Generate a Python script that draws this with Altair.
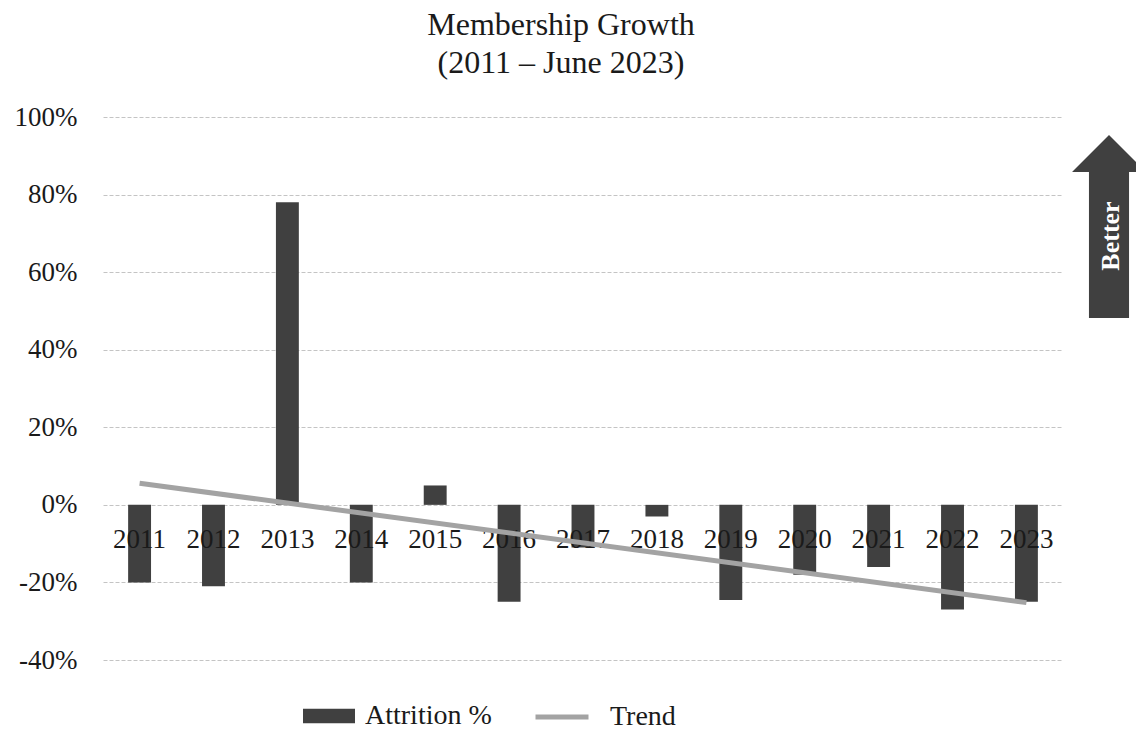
import altair as alt
import pandas as pd

years = [2011, 2012, 2013, 2014, 2015, 2016, 2017, 2018, 2019, 2020, 2021, 2022, 2023]
attrition = [-0.20, -0.21, 0.78, -0.20, 0.05, -0.25, -0.11, -0.03, -0.245, -0.18, -0.16, -0.27, -0.25]
series_names = ["Attrition %", "Trend"]
series_colors = ["#404040", "#a3a3a3"]
y_ticks = [-0.4, -0.2, 0.0, 0.2, 0.4, 0.6, 0.8, 1.0]
title_lines = ["Membership Growth", "(2011 \u2013 June 2023)"]
arrow_label = ["Better"]

FONT = "Liberation Serif"

df = pd.DataFrame({"year": years, "value": attrition})

bar_legend = alt.Legend(
    title=None,
    orient="none",
    legendX=200,
    legendY=573,
    direction="horizontal",
    labelFont=FONT,
    labelFontSize=28,
    labelColor="#1a1a1a",
    symbolType="M-1,-0.28H1V0.28H-1Z",
    symbolSize=2704,
    symbolStrokeWidth=0,
    symbolOpacity=1,
    labelOffset=10,
)
trend_legend = alt.Legend(
    title=None,
    orient="none",
    legendX=430,
    legendY=571,
    direction="horizontal",
    labelFont=FONT,
    labelFontSize=28,
    labelColor="#1a1a1a",
    symbolType="M-1,0H1",
    symbolSize=2809,
    symbolStrokeWidth=5,
    symbolOpacity=1,
    labelOffset=19,
)

x_enc = alt.X(
    "year:O",
    axis=None,
    scale=alt.Scale(paddingInner=0.69, paddingOuter=0.34),
)
y_scale = alt.Scale(domain=[-0.4, 1.0], nice=False)

base = alt.Chart(df)

bars = base.transform_calculate(series=f"'{series_names[0]}'").mark_bar().encode(
    x=x_enc,
    y=alt.Y(
        "value:Q",
        scale=y_scale,
        axis=alt.Axis(
            values=y_ticks,
            labelExpr="round(datum.value*100) + '%'",
            domain=False,
            ticks=False,
            labelFont=FONT,
            labelFontSize=27,
            labelColor="#1a1a1a",
            labelPadding=26,
            gridColor="#c4c4c4",
            gridDash=[4, 2],
            gridWidth=1,
            title=None,
        ),
    ),
    fill=alt.Fill(
        "series:N",
        scale=alt.Scale(domain=[series_names[0]], range=[series_colors[0]]),
        legend=bar_legend,
    ),
)

year_labels = base.mark_text(
    font=FONT, fontSize=27, color="#1a1a1a", baseline="alphabetic", dy=43
).encode(
    x=x_enc,
    y=alt.datum(0),
    text=alt.Text("year:O"),
)

trend = base.transform_regression("year", "value", method="linear").transform_calculate(
    series=f"'{series_names[1]}'"
).mark_line(strokeWidth=5).encode(
    x=x_enc,
    y=alt.Y("value:Q", scale=y_scale),
    stroke=alt.Stroke(
        "series:N",
        scale=alt.Scale(domain=[series_names[1]], range=[series_colors[1]]),
        legend=trend_legend,
    ),
)

arrow_df = pd.DataFrame({"label": arrow_label})
arrow = alt.Chart(arrow_df).mark_point(
    shape="M0,-1L0.404,-0.596L0.219,-0.596L0.219,1L-0.219,1L-0.219,-0.596L-0.404,-0.596Z",
    filled=True,
    fill="#404040",
    opacity=1,
    strokeWidth=0,
    size=183 * 183,
).encode(x=alt.value(1006), y=alt.value(109.5))

better = alt.Chart(arrow_df).mark_text(
    font=FONT, fontSize=26, fontWeight="bold", color="white", angle=270,
    baseline="middle", align="center",
).encode(x=alt.value(1008), y=alt.value(119), text="label:N")

chart = alt.layer(bars, year_labels, trend, arrow, better).resolve_scale(
    fill="independent", stroke="independent"
).properties(
    width=960,
    height=543,
    background="white",
    padding={"left": 103, "top": 117, "right": 73, "bottom": 70},
    autosize=alt.AutoSizeParams(type="none"),
    title=alt.TitleParams(
        text=title_lines,
        font=FONT,
        fontSize=32,
        fontWeight="normal",
        color="#1a1a1a",
        anchor="middle",
        lineHeight=38,
        offset=23,
        dx=-22,
    ),
).configure_view(strokeWidth=0)

chart.save("out.html", embed_options={"renderer": "svg", "actions": False})
